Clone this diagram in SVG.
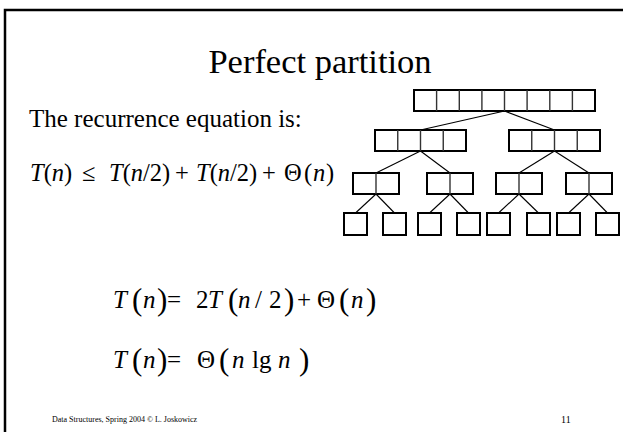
<svg xmlns="http://www.w3.org/2000/svg" width="623" height="432" viewBox="0 0 623 432">
<style>
.t{font-family:"Liberation Serif","Times New Roman",serif;fill:#000}
.i{font-style:italic}
.box{fill:#fff;stroke:#000;stroke-width:2}
.div{stroke:#333;stroke-width:1.4}
.con{stroke:#000;stroke-width:1.1;fill:none}
.p{font-size:31px}
</style>
<rect width="623" height="432" fill="#fff"/>
<path d="M5,432 V10 H623" fill="none" stroke="#000" stroke-width="2.5"/>
<text class="t" x="320" y="73" font-size="34.5" text-anchor="middle">Perfect partition</text>
<text class="t" x="29" y="127" font-size="25">The recurrence equation is:</text>
<text class="t" y="181" font-size="24.5"><tspan x="30" class="i">T</tspan><tspan>(</tspan><tspan class="i">n</tspan><tspan>)</tspan><tspan x="82">≤</tspan><tspan x="109" class="i">T</tspan><tspan>(</tspan><tspan class="i">n</tspan><tspan>/2)</tspan><tspan x="175">+</tspan><tspan x="196" class="i">T</tspan><tspan>(</tspan><tspan class="i">n</tspan><tspan>/2)</tspan><tspan x="262">+</tspan><tspan x="284">Θ</tspan><tspan x="304">(</tspan><tspan x="313" class="i">n</tspan><tspan x="326">)</tspan></text>
<text class="t" y="308" font-size="25"><tspan x="113" class="i">T</tspan><tspan x="132" class="p" dy="2">(</tspan><tspan x="143" class="i" dy="-2">n</tspan><tspan x="157" class="p" dy="2">)</tspan><tspan x="167" dy="-2">=</tspan><tspan x="196">2</tspan><tspan x="208" class="i">T</tspan><tspan x="228" class="p" dy="2">(</tspan><tspan x="238" class="i" dy="-2">n</tspan><tspan x="255">/</tspan><tspan x="269">2</tspan><tspan x="284" class="p" dy="2">)</tspan><tspan x="297" dy="-2">+</tspan><tspan x="317">Θ</tspan><tspan x="339" class="p" dy="2">(</tspan><tspan x="351" class="i" dy="-2">n</tspan><tspan x="366" class="p" dy="2">)</tspan></text>
<text class="t" y="368" font-size="25"><tspan x="113" class="i">T</tspan><tspan x="132" class="p" dy="2">(</tspan><tspan x="143" class="i" dy="-2">n</tspan><tspan x="157" class="p" dy="2">)</tspan><tspan x="167" dy="-2">=</tspan><tspan x="197">Θ</tspan><tspan x="219" class="p" dy="2">(</tspan><tspan x="232" class="i" dy="-2">n</tspan><tspan x="252">lg</tspan><tspan x="278" class="i">n</tspan><tspan x="299" class="p" dy="2">)</tspan></text>
<text class="t" x="52" y="422" font-size="8">Data Structures,  Spring 2004 © L. Joskowicz</text>
<text class="t" x="561" y="423" font-size="10">11</text>
<g id="connectors">
<line class="con" x1="504.5" y1="111" x2="420.5" y2="130"/>
<line class="con" x1="504.5" y1="111" x2="554.5" y2="130"/>
<line class="con" x1="420.5" y1="151" x2="376" y2="173"/>
<line class="con" x1="420.5" y1="151" x2="450" y2="173"/>
<line class="con" x1="554.5" y1="151" x2="519" y2="173"/>
<line class="con" x1="554.5" y1="151" x2="589" y2="173"/>
<line class="con" x1="376" y1="194" x2="355.5" y2="213"/>
<line class="con" x1="376" y1="194" x2="394.5" y2="213"/>
<line class="con" x1="450" y1="194" x2="429.5" y2="213"/>
<line class="con" x1="450" y1="194" x2="468.5" y2="213"/>
<line class="con" x1="519" y1="194" x2="498.5" y2="213"/>
<line class="con" x1="519" y1="194" x2="538.5" y2="213"/>
<line class="con" x1="589" y1="194" x2="568.5" y2="213"/>
<line class="con" x1="589" y1="194" x2="607.5" y2="213"/>
</g>
<g id="root">
<rect class="box" x="414" y="90" width="181" height="21"/>
<path class="div" d="M436.6,90v21M459.3,90v21M481.9,90v21M504.5,90v21M527.1,90v21M549.8,90v21M572.4,90v21"/>
</g>
<g id="l2a">
<rect class="box" x="375" y="130" width="91" height="21"/>
<path class="div" d="M397.75,130v21M420.5,130v21M443.25,130v21"/>
</g>
<g id="l2b">
<rect class="box" x="509" y="130" width="91" height="21"/>
<path class="div" d="M531.75,130v21M554.5,130v21M577.25,130v21"/>
</g>
<g id="l3a"><rect class="box" x="353" y="173" width="46" height="21"/><path class="div" d="M376,173v21"/></g>
<g id="l3b"><rect class="box" x="427" y="173" width="46" height="21"/><path class="div" d="M450,173v21"/></g>
<g id="l3c"><rect class="box" x="496" y="173" width="46" height="21"/><path class="div" d="M519,173v21"/></g>
<g id="l3d"><rect class="box" x="566" y="173" width="46" height="21"/><path class="div" d="M589,173v21"/></g>
<g id="l4a"><rect class="box" x="344" y="213" width="23" height="22"/></g>
<g id="l4b"><rect class="box" x="383" y="213" width="23" height="22"/></g>
<g id="l4c"><rect class="box" x="418" y="213" width="23" height="22"/></g>
<g id="l4d"><rect class="box" x="457" y="213" width="23" height="22"/></g>
<g id="l4e"><rect class="box" x="487" y="213" width="23" height="22"/></g>
<g id="l4f"><rect class="box" x="527" y="213" width="23" height="22"/></g>
<g id="l4g"><rect class="box" x="557" y="213" width="23" height="22"/></g>
<g id="l4h"><rect class="box" x="596" y="213" width="23" height="22"/></g>
</svg>
